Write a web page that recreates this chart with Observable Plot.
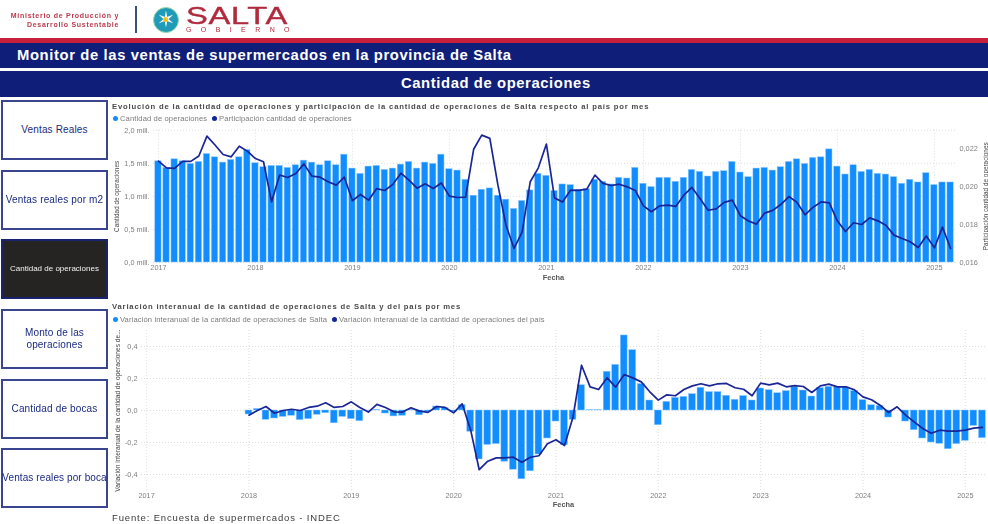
<!DOCTYPE html>
<html lang="es"><head><meta charset="utf-8">
<script src="https://cdn.jsdelivr.net/npm/d3@7"></script>
<script src="https://cdn.jsdelivr.net/npm/@observablehq/plot@0.6"></script>
<style>
html,body{margin:0;padding:0;background:#fff;width:988px;height:524px;overflow:hidden;font-family:"Liberation Sans",Arial,sans-serif}
#page{position:relative;width:988px;height:524px;overflow:hidden;filter:blur(.4px)}
.abs{position:absolute;white-space:nowrap}
.band{position:absolute;left:0;width:988px;background:#0f1e78;color:#fff;font-weight:700}
.btn{position:absolute;left:1px;width:103px;height:56px;border:2px solid #3a4590;background:#fff;color:#1a2a80;font-size:10px;letter-spacing:.15px;display:flex;align-items:center;justify-content:center;text-align:center;line-height:1.25;white-space:pre-line}
.btn.on{background:#252423;border-color:#1a2370;color:#f2f2f2;font-size:8px;letter-spacing:0}
.ct{position:absolute;left:112px;font:700 7.7px "Liberation Sans",Arial,sans-serif;letter-spacing:.81px;color:#4a4a4a;white-space:nowrap}
.lg{position:absolute;font:7.6px "Liberation Sans",Arial,sans-serif;color:#7a7a7a;white-space:nowrap;letter-spacing:.12px}
.lg i{position:absolute;left:-7px;top:1.6px;width:5px;height:5px;border-radius:50%}
svg{position:absolute;overflow:visible}
</style></head><body>
<div id="page">
  <div class="abs" style="right:869px;top:11px;text-align:right;font:700 7px/9px 'Liberation Sans';letter-spacing:.72px;color:#b93a4c">Ministerio de Producción y<br>Desarrollo Sustentable</div>
  <div class="abs" style="left:135px;top:6px;width:2px;height:27px;background:#3a4f7a"></div>
  <div class="abs" style="left:153px;top:7px;width:24px;height:24px;border:1px solid #9bd6a8;border-radius:50%;background:#1f9ab8;color:#fff;font:22px/24px 'DejaVu Sans';text-align:center">✶</div>
  <div class="abs" style="left:163px;top:17px;width:5px;height:5px;border-radius:50%;background:#f0c020"></div>
  <div class="abs" style="left:186px;top:6px;font:400 24px/19px 'Liberation Sans';letter-spacing:.5px;color:#b02a3e;transform:scaleX(1.36);transform-origin:left;-webkit-text-stroke:.4px #b02a3e">SALTA</div>
  <div class="abs" style="left:186px;top:26px;font:400 7px/7px 'Liberation Sans';letter-spacing:9.4px;color:#b02a3e">GOBIERNO</div>
  <div class="abs" style="left:0;top:38px;width:988px;height:5px;background:#c7203a"></div>
  <div class="band" style="top:43px;height:25px"><span class="abs" style="left:17px;top:4px;font-size:14.8px;letter-spacing:.62px">Monitor de las ventas de supermercados en la provincia de Salta</span></div>
  <div class="band" style="top:71px;height:26px"><span class="abs" style="left:401px;top:4px;font-size:14.8px;letter-spacing:.6px">Cantidad de operaciones</span></div>

  <div class="btn" style="top:100px">Ventas Reales</div>
  <div class="btn" style="top:170px">Ventas reales por m2</div>
  <div class="btn on" style="top:239px">Cantidad de operaciones</div>
  <div class="btn" style="top:309px">Monto de las
operaciones</div>
  <div class="btn" style="top:379px">Cantidad de bocas</div>
  <div class="btn" style="top:448px;letter-spacing:.1px;white-space:nowrap">Ventas reales por boca</div>

  <div class="ct" style="top:101.5px">Evolución de la cantidad de operaciones y participación de la cantidad de operaciones de Salta respecto al país por mes</div>
  <div class="lg" style="left:120px;top:114px"><i style="background:#118dff"></i>Cantidad de operaciones</div>
  <div class="lg" style="left:219px;top:114px"><i style="background:#12239e"></i>Participación cantidad de operaciones</div>

  <div class="ct" style="top:301.5px">Variación interanual de la cantidad de operaciones de Salta y del país por mes</div>
  <div class="lg" style="left:120px;top:315px"><i style="background:#118dff"></i>Variación interanual de la cantidad de operaciones de Salta</div>
  <div class="lg" style="left:339px;top:315px"><i style="background:#12239e"></i>Variación interanual de la cantidad de operaciones del país</div>

  <div class="abs" style="left:112px;top:512px;font-size:9.5px;letter-spacing:.85px;color:#3a3a3a">Fuente: Encuesta de supermercados - INDEC</div>
  <div id="chart1"></div>
  <div id="chart2"></div>
</div>
<script>
// Top chart: monthly, 2017-01 to 2025-03
const cantidadOperaciones = [
 1.53,1.43,1.56,1.53,1.49,1.52,1.64,1.59,1.51,1.55,1.59,1.70,
 1.50,1.44,1.46,1.46,1.43,1.47,1.54,1.51,1.47,1.53,1.47,1.63,
 1.42,1.34,1.45,1.46,1.40,1.42,1.48,1.52,1.42,1.51,1.49,1.63,
 1.41,1.39,1.25,1.01,1.10,1.12,1.01,0.95,0.81,0.93,1.09,1.34,
 1.31,1.08,1.18,1.17,1.10,1.11,1.25,1.22,1.18,1.28,1.27,1.43,
 1.19,1.14,1.28,1.28,1.22,1.28,1.40,1.37,1.30,1.37,1.38,1.52,
 1.36,1.29,1.42,1.43,1.39,1.44,1.52,1.56,1.49,1.58,1.59,1.71,
 1.45,1.33,1.47,1.37,1.40,1.34,1.33,1.29,1.19,1.25,1.21,1.35,
 1.17,1.21,1.21];
const participacion = [
 .02133,.02098,.02095,.02132,.02132,.0216,.02265,.02218,.02168,.02156,.02212,.02186,
 .02147,.0213,.01919,.0206,.02047,.02068,.02119,.02054,.02049,.02025,.02007,.02049,
 .01925,.01958,.01928,.01989,.01979,.02011,.0207,.02033,.01991,.02014,.01989,.02018,
 .01949,.01942,.01944,.02196,.0227,.02253,.02007,.01796,.01674,.01761,.02025,.02098,
 .02223,.0194,.01918,.01981,.01979,.01986,.0206,.02016,.02005,.02012,.01998,.01979,
 .01898,.01867,.01898,.01902,.01895,.01954,.01995,.01937,.01875,.01882,.01916,.01928,
 .01846,.01818,.01802,.0186,.01874,.01905,.01947,.01916,.01851,.01891,.01919,.01914,
 .01818,.01763,.01809,.018,.01835,.01819,.01796,.01744,.01726,.01709,.01679,.01739,
 .01677,.01786,.01674];
// Bottom chart: monthly, 2018-01 to 2025-03
const variacionSalta = [
 -.025,.01,-.058,-.05,-.04,-.033,-.06,-.054,-.027,-.017,-.08,-.04,
 -.054,-.067,-.002,.004,-.019,-.037,-.033,.005,-.03,-.01,.025,.015,
 -.008,.033,-.133,-.306,-.215,-.21,-.32,-.37,-.43,-.38,-.275,-.175,
 -.069,-.217,-.058,.158,.002,.002,.242,.285,.469,.377,.165,.0625,
 -.092,.054,.079,.085,.102,.142,.115,.115,.092,.067,.09,.0625,
 .1375,.127,.108,.121,.146,.125,.0875,.14,.148,.148,.144,.121,
 .065,.033,.029,-.044,0,-.069,-.123,-.175,-.2,-.208,-.242,-.21,
 -.19,-.096,-.173];
const variacionPais = [
 -.029,0,.025,-.017,0,.008,0,.019,.027,.048,.019,.025,
 .054,.019,-.01,.038,.019,-.008,-.01,.017,-.004,-.012,.025,.019,
 -.015,.042,-.123,-.37,-.317,-.296,-.296,-.292,-.323,-.292,-.283,-.208,
 -.183,-.219,-.04,.283,.148,.131,.204,.146,.225,.204,.179,.117,
 .065,.098,.092,.131,.154,.167,.154,.167,.169,.142,.133,.092,
 .171,.16,.171,.148,.156,.15,.1125,.154,.165,.148,.148,.129,
 .085,.067,.033,-.0125,.023,-.029,-.071,-.1125,-.142,-.123,-.129,-.129,
 -.123,-.11,-.106];
const years = ["2017","2018","2019","2020","2021","2022","2023","2024","2025"];
const leftTicks = [0,.5,1,1.5,2];
const rightTicks = [.016,.018,.02,.022];
const varTicks = [-.4,-.2,0,.2,.4];

const months = [];
for (const y of years) for (let m = 1; m <= 12; m++) {
  if (y === "2025" && m > 3) break;
  months.push(`${y}-${String(m).padStart(2,"0")}`);
}
const janTicks = years.map(y => y + "-01");
const rowsTop = months.map((m,i) => ({m, v: cantidadOperaciones[i], p: participacion[i]}));
const rowsBot = months.slice(12).map((m,i) => ({m, s: variacionSalta[i], n: variacionPais[i]}));

const BLUE = "#118dff", NAVY = "#1a2696", GRID = "#d6d6d6", TXT = "#808080";
const comma = (d,f) => d3.format(f)(d).replace(".",",").replace("\u2212","-");
const y2 = d3.scaleLinear([.016,.02296],[0,2]);

const fig1 = Plot.plot({
  width: 883, height: 170, marginLeft: 48, marginRight: 33, marginTop: 7.7, marginBottom: 30,
  style: {background:"transparent", font:'7.3px "Liberation Sans",Arial,sans-serif', color:TXT, overflow:"visible"},
  x: {type:"band", domain:months, padding:.22, round:false, label:null},
  y: {domain:[0,2], label:null},
  marks: [
    Plot.ruleX(janTicks, {stroke:GRID, strokeDasharray:"1,2", strokeWidth:.8}),
    Plot.ruleY(leftTicks, {stroke:GRID, strokeDasharray:"1,2", strokeWidth:.8}),
    Plot.barY(rowsTop, {x:"m", y:"v", fill:BLUE, stroke:"#8cc8ff", strokeWidth:.5}),
    Plot.line(rowsTop, {x:"m", y:d=>y2(d.p), stroke:NAVY, strokeWidth:1.7, curve:"linear"}),
    Plot.axisY(leftTicks, {anchor:"left", tickSize:0, tickPadding:4, tickFormat:d=>comma(d,".1f")+" mill.", label:null}),
    Plot.axisY(rightTicks.map(y2), {anchor:"right", tickSize:0, tickPadding:4, tickFormat:d=>comma(y2.invert(d),".3f"), label:null}),
    Plot.axisX(janTicks, {tickSize:0, tickPadding:2, tickFormat:d=>d.slice(0,4), label:null}),
    Plot.text(["Cantidad de operaciones"], {frameAnchor:"left", textAnchor:"middle", dx:-37, rotate:-90, fill:"#444", fontSize:6.4}),
    Plot.text(["Participación cantidad de operaciones"], {frameAnchor:"right", textAnchor:"middle", dx:30, rotate:-90, fill:"#444", fontSize:6.4}),
    Plot.text(["Fecha"], {frameAnchor:"bottom", dy:17, dx:-1, fill:"#555", fontSize:7.4, fontWeight:700})
  ]
});
fig1.style.left = "105px"; fig1.style.top = "122px";
document.getElementById("chart1").append(fig1);

const fig2 = Plot.plot({
  width: 883, height: 195, marginLeft: 36, marginRight: 1, marginTop: 5, marginBottom: 30,
  style: {background:"transparent", font:'7.3px "Liberation Sans",Arial,sans-serif', color:TXT, overflow:"visible"},
  x: {type:"band", domain:months, padding:.2, round:false, label:null},
  y: {domain:[-.5,.5], label:null},
  marks: [
    Plot.ruleX(janTicks, {stroke:GRID, strokeDasharray:"1,2", strokeWidth:.8}),
    Plot.ruleY(varTicks, {stroke:GRID, strokeDasharray:"1,2", strokeWidth:.8}),
    Plot.barY(rowsBot, {x:"m", y:"s", fill:BLUE, stroke:"#8cc8ff", strokeWidth:.5}),
    Plot.line(rowsBot, {x:"m", y:"n", stroke:NAVY, strokeWidth:1.7, curve:"linear"}),
    Plot.axisY(varTicks, {anchor:"left", tickSize:0, tickPadding:4, tickFormat:d=>comma(d,".1f"), label:null}),
    Plot.axisX(janTicks, {tickSize:0, tickPadding:2, tickFormat:d=>d.slice(0,4), label:null}),
    Plot.text(["Variación interanual de la cantidad de operaciones de..."], {frameAnchor:"left", textAnchor:"middle", dx:-24, rotate:-90, fill:"#444", fontSize:6.6}),
    Plot.text(["Fecha"], {frameAnchor:"bottom", dy:16, dx:-1, fill:"#555", fontSize:7.4, fontWeight:700})
  ]
});
fig2.style.left = "105px"; fig2.style.top = "325px";
document.getElementById("chart2").append(fig2);
</script>
</body></html>
